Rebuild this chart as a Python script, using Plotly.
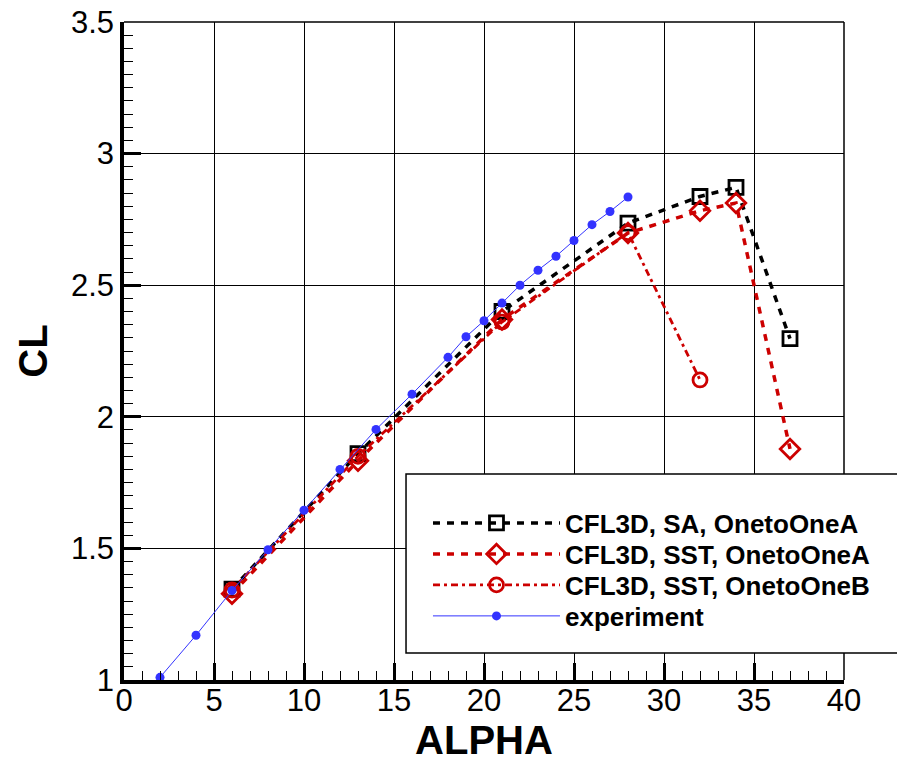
import plotly.graph_objects as go

# ---- data ----
sa_alpha = [6, 13, 21, 28, 32, 34, 37]
sa_cl = [1.345, 1.86, 2.40, 2.736, 2.837, 2.872, 2.297]

ssta_alpha = [6, 13, 21, 28, 32, 34, 37]
ssta_cl = [1.328, 1.833, 2.37, 2.698, 2.783, 2.812, 1.878]

sstb_alpha = [6, 13, 21, 28, 32]
sstb_cl = [1.342, 1.85, 2.36, 2.70, 2.14]

exp_alpha = [2, 4, 6, 8, 10, 12, 14, 16, 18, 19, 20, 21, 22, 23, 24, 25, 26, 27, 28]
exp_cl = [1.01, 1.17, 1.34, 1.495, 1.645, 1.80, 1.952, 2.086, 2.226, 2.304,
          2.365, 2.432, 2.50, 2.557, 2.61, 2.67, 2.73, 2.78, 2.835]

series_names = ["CFL3D, SA, OnetoOneA", "CFL3D, SST, OnetoOneA",
                "CFL3D, SST, OnetoOneB", "experiment"]

x_ticks = [0, 5, 10, 15, 20, 25, 30, 35, 40]
y_ticks = [1, 1.5, 2, 2.5, 3, 3.5]
y_tick_text = ["1", "1.5", "2", "2.5", "3", "3.5"]

RED = "rgb(204,0,0)"
BLUE = "rgb(51,51,255)"
FONT = "Liberation Sans, Arial, sans-serif"

fig = go.Figure()

fig.add_trace(go.Scatter(
    x=sa_alpha, y=sa_cl, name=series_names[0], mode="lines+markers",
    line=dict(color="black", width=3.5, dash="7px,7px"),
    marker=dict(symbol="square-open", size=14, color="black",
                line=dict(width=2.8, color="black")),
    legend="legend"))

fig.add_trace(go.Scatter(
    x=ssta_alpha, y=ssta_cl, name=series_names[1], mode="lines+markers",
    line=dict(color=RED, width=3.5, dash="7px,7px"),
    marker=dict(symbol="diamond-open", size=15, color=RED,
                line=dict(width=2.8, color=RED)),
    legend="legend2"))

fig.add_trace(go.Scatter(
    x=sstb_alpha, y=sstb_cl, name=series_names[2], mode="lines+markers",
    line=dict(color=RED, width=2.8, dash="7px,4px,3px,4px"),
    marker=dict(symbol="circle-open", size=14, color=RED,
                line=dict(width=2.8, color=RED)),
    legend="legend3"))

fig.add_trace(go.Scatter(
    x=exp_alpha, y=exp_cl, name=series_names[3], mode="lines+markers",
    line=dict(color=BLUE, width=1),
    marker=dict(symbol="circle", size=9, color=BLUE),
    legend="legend4"))

axis_common = dict(
    showgrid=True, gridcolor="black", gridwidth=1,
    showline=True, linecolor="black", linewidth=3.5, mirror=False,
    ticks="inside", ticklen=17, tickwidth=2.5, tickcolor="black",
    tickfont=dict(family=FONT, size=31, color="black"),
    zeroline=False, automargin=False, ticklabeloverflow="allow",
)

fig.update_xaxes(
    range=[0, 40], tickvals=x_ticks, ticklabelstandoff=-10,
    minor=dict(ticks="inside", ticklen=9, tickwidth=1, tickcolor="black",
               dtick=1, showgrid=False),
    title=dict(text="<b>ALPHA</b>", font=dict(family=FONT, size=40, color="black"),
               standoff=10),
    **axis_common)

fig.update_yaxes(
    range=[1, 3.5], tickvals=y_ticks, ticktext=y_tick_text,
    minor=dict(ticks="inside", ticklen=9, tickwidth=1, tickcolor="black",
               dtick=0.05, showgrid=False),
    title=dict(text="<b>CL</b>", font=dict(family=FONT, size=40, color="black"),
               standoff=12),
    **axis_common)

shapes = [
    # thin top and right frame
    dict(type="line", xref="paper", yref="paper", x0=0, x1=1, y0=1, y1=1,
         line=dict(color="black", width=1.5), layer="above"),
    dict(type="line", xref="paper", yref="paper", x0=1, x1=1, y0=0, y1=1,
         line=dict(color="black", width=1.5), layer="above"),
    # legend box
    dict(type="rect", xref="paper", yref="paper", x0=0.3917, x1=1.3,
         y0=0.041, y1=0.3131, fillcolor="white",
         line=dict(color="black", width=1.5), layer="above"),
]

legend_common = dict(
    x=0.4222, xanchor="left", yanchor="middle",
    bgcolor="rgba(0,0,0,0)", borderwidth=0,
    font=dict(family=FONT, size=26, color="black", weight="bold"),
    itemwidth=127,
)
legend_rows = [0.2386, 0.1915, 0.1444, 0.0973]

fig.update_layout(
    width=897, height=762,
    margin=dict(l=124, r=53, t=22, b=82),
    paper_bgcolor="white", plot_bgcolor="white",
    font=dict(family=FONT, color="black"),
    shapes=shapes,
    showlegend=True,
    legend=dict(y=legend_rows[0], **legend_common),
    legend2=dict(y=legend_rows[1], **legend_common),
    legend3=dict(y=legend_rows[2], **legend_common),
    legend4=dict(y=legend_rows[3], **legend_common),
)

fig.write_html(
    "out.html",
    config={"displayModeBar": False},
    post_script="document.body.style.margin='0px';document.body.style.overflow='hidden';",
)
